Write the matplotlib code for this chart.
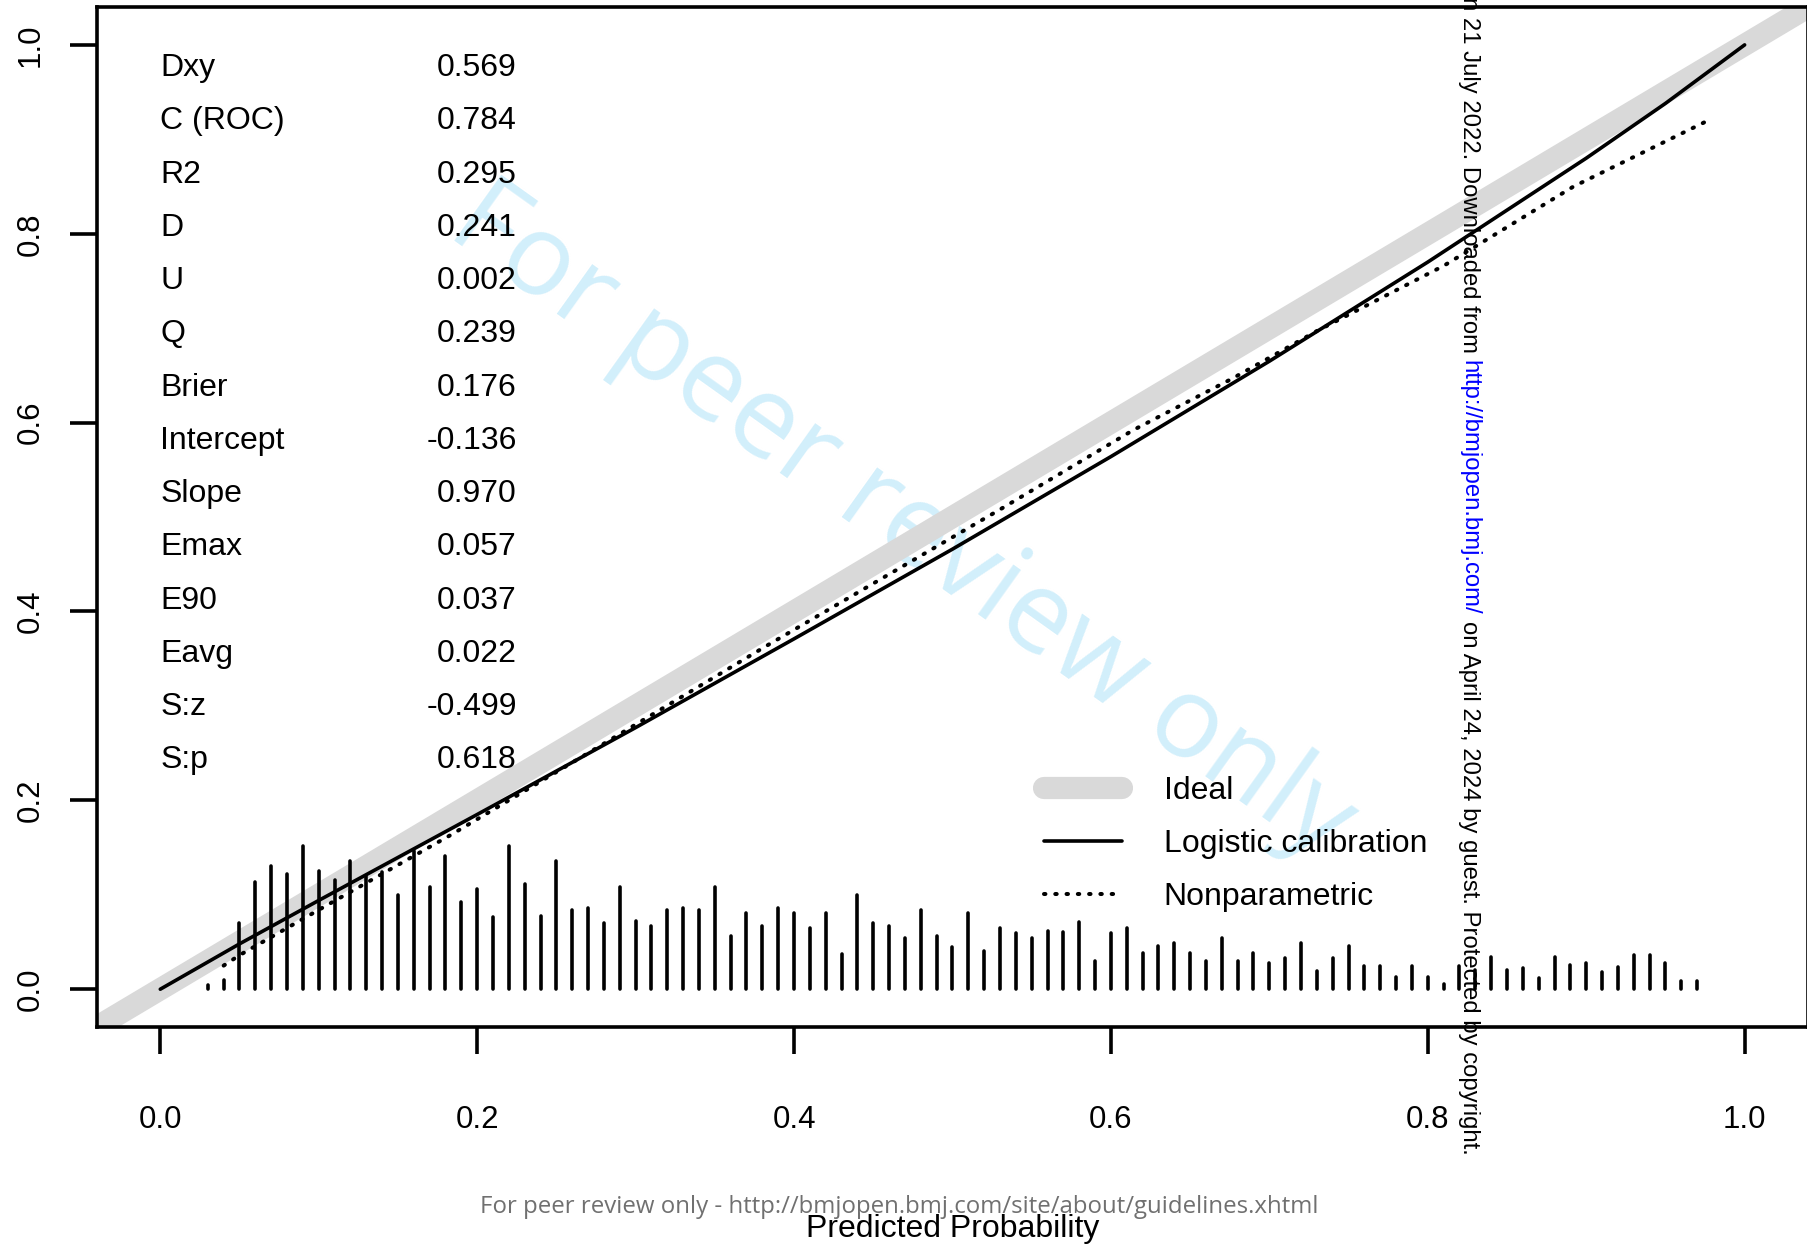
import matplotlib
matplotlib.use("Agg")
import matplotlib.pyplot as plt
from matplotlib.ticker import FormatStrFormatter

plt.rcParams['font.family'] = ['Liberation Sans', 'DejaVu Sans']

# calibration statistics printed in the upper left corner
stat_names = ["Dxy", "C (ROC)", "R2", "D", "U", "Q", "Brier", "Intercept",
              "Slope", "Emax", "E90", "Eavg", "S:z", "S:p"]
stat_values = ["0.569", "0.784", "0.295", "0.241", "0.002", "0.239", "0.176",
               "-0.136", "0.970", "0.057", "0.037", "0.022", "-0.499", "0.618"]

# logistic calibration curve
logit_x = [0.0, 0.05, 0.1, 0.2, 0.3, 0.4, 0.5, 0.6, 0.7, 0.8, 0.9, 0.95, 1.0]
logit_y = [0.0, 0.048, 0.094, 0.185, 0.277, 0.371, 0.466, 0.564, 0.665, 0.770,
           0.880, 0.938, 1.0]

# nonparametric (loess) curve
np_x = [0.04, 0.05, 0.10, 0.183, 0.275, 0.382, 0.53, 0.614, 0.677, 0.73,
        0.81, 0.892, 0.977]
np_y = [0.025, 0.036, 0.084, 0.163, 0.255, 0.363, 0.508, 0.592, 0.647, 0.697,
        0.766, 0.850, 0.920]

# distribution of predicted probabilities (spike histogram)
spike_x = [round(0.03 + 0.01 * i, 2) for i in range(95)]
spike_h = [0.004, 0.010, 0.070, 0.114, 0.130, 0.122, 0.152, 0.125, 0.116, 0.136,
           0.120, 0.124, 0.100, 0.146, 0.108, 0.141, 0.092, 0.106, 0.076, 0.152,
           0.111, 0.078, 0.136, 0.084, 0.086, 0.070, 0.108, 0.072, 0.067, 0.084,
           0.086, 0.084, 0.108, 0.056, 0.081, 0.067, 0.086, 0.081, 0.065, 0.081,
           0.037, 0.100, 0.070, 0.067, 0.054, 0.084, 0.056, 0.045, 0.081, 0.040,
           0.065, 0.059, 0.054, 0.062, 0.061, 0.071, 0.030, 0.060, 0.065, 0.038,
           0.046, 0.049, 0.038, 0.030, 0.054, 0.030, 0.038, 0.028, 0.033, 0.049,
           0.019, 0.033, 0.046, 0.025, 0.025, 0.013, 0.025, 0.013, 0.005, 0.025,
           0.020, 0.034, 0.020, 0.022, 0.012, 0.034, 0.026, 0.028, 0.018, 0.023,
           0.036, 0.036, 0.028, 0.009, 0.009]

FS = 23
TICK_FS = 22.5
LW = 2.6

fig = plt.figure(figsize=(18.08, 12.48), dpi=100)
ax = fig.add_axes([0.0536, 0.1771, 0.9464, 0.8172])
ax.set_xlim(-0.04, 1.04)
ax.set_ylim(-0.04, 1.04)

ax.axline((0, 0), slope=1, color='#d9d9d9', lw=16, solid_capstyle='round',
          zorder=1, label='Ideal')
ax.vlines(spike_x, 0, spike_h, colors='black', lw=LW, capstyle='round', zorder=2)
ax.plot(logit_x, logit_y, color='black', lw=LW, solid_capstyle='round',
        zorder=3, label='Logistic calibration')
ax.plot(np_x, np_y, color='black', lw=LW + 0.3, linestyle=(0, (0.35, 2.45)),
        dash_capstyle='round', zorder=3, label='Nonparametric')

# statistics block
stat_y0 = 0.967
stat_step = 0.0564
for i, (name, val) in enumerate(zip(stat_names, stat_values)):
    y = stat_y0 - i * stat_step
    ax.text(0.0, y, name, fontsize=FS, ha='left', va='baseline')
    ax.text(0.225, y, val, fontsize=FS, ha='right', va='baseline')

ax.legend(loc='upper left', bbox_to_anchor=(0.5535, 0.2461), frameon=False,
          fontsize=FS, borderpad=0, borderaxespad=0, handlelength=2.45,
          handletextpad=1.3, labelspacing=0.72)

ax.set_xticks([0.0, 0.2, 0.4, 0.6, 0.8, 1.0])
ax.set_yticks([0.0, 0.2, 0.4, 0.6, 0.8, 1.0])
ax.xaxis.set_major_formatter(FormatStrFormatter('%.1f'))
ax.yaxis.set_major_formatter(FormatStrFormatter('%.1f'))
ax.tick_params(axis='both', length=19.5, width=LW, labelsize=TICK_FS, direction='out')
ax.tick_params(axis='x', pad=37)
ax.tick_params(axis='y', pad=17.5, labelrotation=90)
plt.setp(ax.get_yticklabels(), va='center')
for s in ax.spines.values():
    s.set_linewidth(LW)

ax.set_xlabel('Predicted Probability', fontsize=FS, labelpad=56.5)

# watermark across the plot
ax.text(0.470, 0.494, 'For peer review only', transform=ax.transAxes,
        rotation=-35.5, rotation_mode='anchor', ha='center', va='center',
        fontsize=82, color='#d2effb', family='Open Sans', zorder=0.5)

# footer line
fig.text(899 / 1808, 1 - 1207 / 1248,
         'For peer review only - http://bmjopen.bmj.com/site/about/guidelines.xhtml',
         ha='center', va='center', fontsize=17.3, color='#707070', family='Open Sans')

# vertical download notice on the right
side_kw = dict(rotation=-90, fontsize=17.2, ha='center', va='top', clip_on=False)
t1 = ax.text(1469 / 1808, 1 + 3 / 1248, 'n 21 July 2022. Downloaded from',
             transform=fig.transFigure, color='black', **side_kw)
t2 = ax.annotate('http://bmjopen.bmj.com/', xy=(0.5, 0), xycoords=t1,
                 xytext=(0, -4.8), textcoords='offset points',
                 color='#0000ff', annotation_clip=False, **side_kw)
t3 = ax.annotate('on April 24, 2024 by guest. Protected by copyright.',
                 xy=(0.5, 0), xycoords=t2, xytext=(0, -4.8),
                 textcoords='offset points', color='black',
                 annotation_clip=False, **side_kw)

fig.savefig('out.png', dpi=100)
